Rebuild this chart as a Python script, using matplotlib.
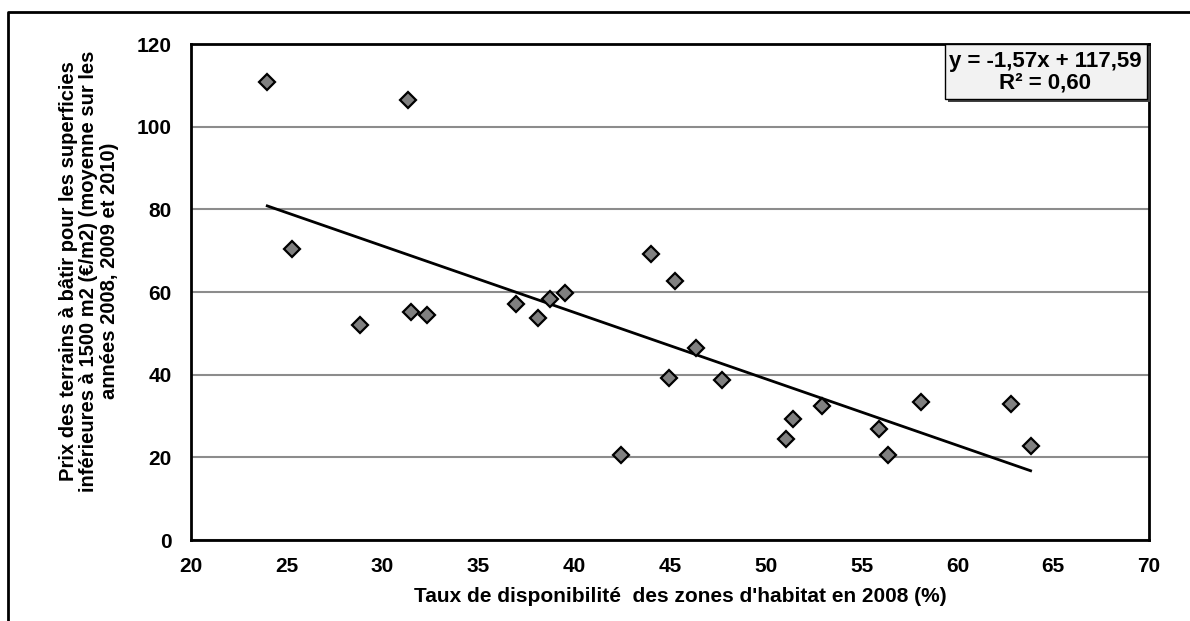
import numpy as np
import matplotlib
matplotlib.use("Agg")
import matplotlib.pyplot as plt
from matplotlib.patches import Rectangle
from matplotlib.lines import Line2D

plt.rcParams['font.family'] = ['Liberation Sans', 'DejaVu Sans']
plt.rcParams['font.weight'] = 'bold'

# taux de disponibilité (%) et prix moyen (€/m2)
taux = [23.98, 31.31, 25.26, 28.82, 31.48, 32.34, 36.95, 38.09, 38.74, 39.52,
        44.0, 45.28, 46.36, 44.93, 47.69, 42.44, 51.44, 51.04, 52.92, 58.09,
        55.89, 56.38, 62.80, 63.82]
prix = [110.7, 106.4, 70.3, 52.0, 55.2, 54.4, 57.1, 53.8, 58.4, 59.7,
        69.2, 62.7, 46.4, 39.3, 38.8, 20.6, 29.3, 24.4, 32.4, 33.3,
        26.8, 20.6, 33.0, 22.7]

x_ticks = [20, 25, 30, 35, 40, 45, 50, 55, 60, 65, 70]
y_ticks = [0, 20, 40, 60, 80, 100, 120]
equation = "y = -1,57x + 117,59\nR² = 0,60"

W, H = 1190, 621
fig = plt.figure(figsize=(W / 100, H / 100), dpi=100)
ax = fig.add_axes([191 / W, 1 - 540 / H, (1149 - 191) / W, (540 - 44) / H])

ax.set_xlim(20, 70)
ax.set_ylim(0, 120)
ax.set_xticks(x_ticks)
ax.set_yticks(y_ticks)
ax.tick_params(length=0, labelsize=15)
ax.tick_params(axis='x', pad=12)
ax.tick_params(axis='y', pad=14)
ax.yaxis.grid(True, color='#8c8c8c', linewidth=1.5)
ax.set_axisbelow(True)
for s in ax.spines.values():
    s.set_linewidth(2)
    s.set_color('black')

# trend line (linear fit)
slope, intercept = np.polyfit(taux, prix, 1)
xs = np.array([min(taux), max(taux)])
ax.plot(xs, slope * xs + intercept, color='black', linewidth=2, zorder=2)

ax.plot(taux, prix, linestyle='none', marker='D', markersize=8.5,
        markerfacecolor='#808080', markeredgecolor='black',
        markeredgewidth=1.6, zorder=3)

fig.text(680 / W, 1 - 597 / H,
         "Taux de disponibilité  des zones d'habitat en 2008 (%)",
         ha='center', va='center', fontsize=15, fontweight='bold')
fig.text(89 / W, 1 - 271 / H,
         "Prix des terrains à bâtir pour les superficies\n"
         "inférieures à 1500 m2 (€/m2) (moyenne sur les\n"
         "années 2008, 2009 et 2010)",
         ha='center', va='center', rotation=90, fontsize=14.5,
         fontweight='bold', linespacing=1.08)

# equation box with shadow
fig.patches.append(Rectangle((948 / W, 1 - 102 / H), 202 / W, 56 / H,
                             transform=fig.transFigure, facecolor='#404040',
                             edgecolor='none', zorder=5))
fig.patches.append(Rectangle((945 / W, 1 - 99 / H), 202 / W, 55 / H,
                             transform=fig.transFigure, facecolor='#f2f2f2',
                             edgecolor='black', linewidth=1, zorder=6))
fig.text(1045 / W, 1 - 72 / H, equation, ha='center', va='center',
         fontsize=16, fontweight='bold', linespacing=1.05, zorder=7)

# outer chart frame (cropped)
fig.lines.append(Line2D([8 / W, 8 / W, 1.0], [0.0, 1 - 12 / H, 1 - 12 / H],
                        transform=fig.transFigure, color='black', linewidth=2))

fig.savefig("out.png", dpi=100)
